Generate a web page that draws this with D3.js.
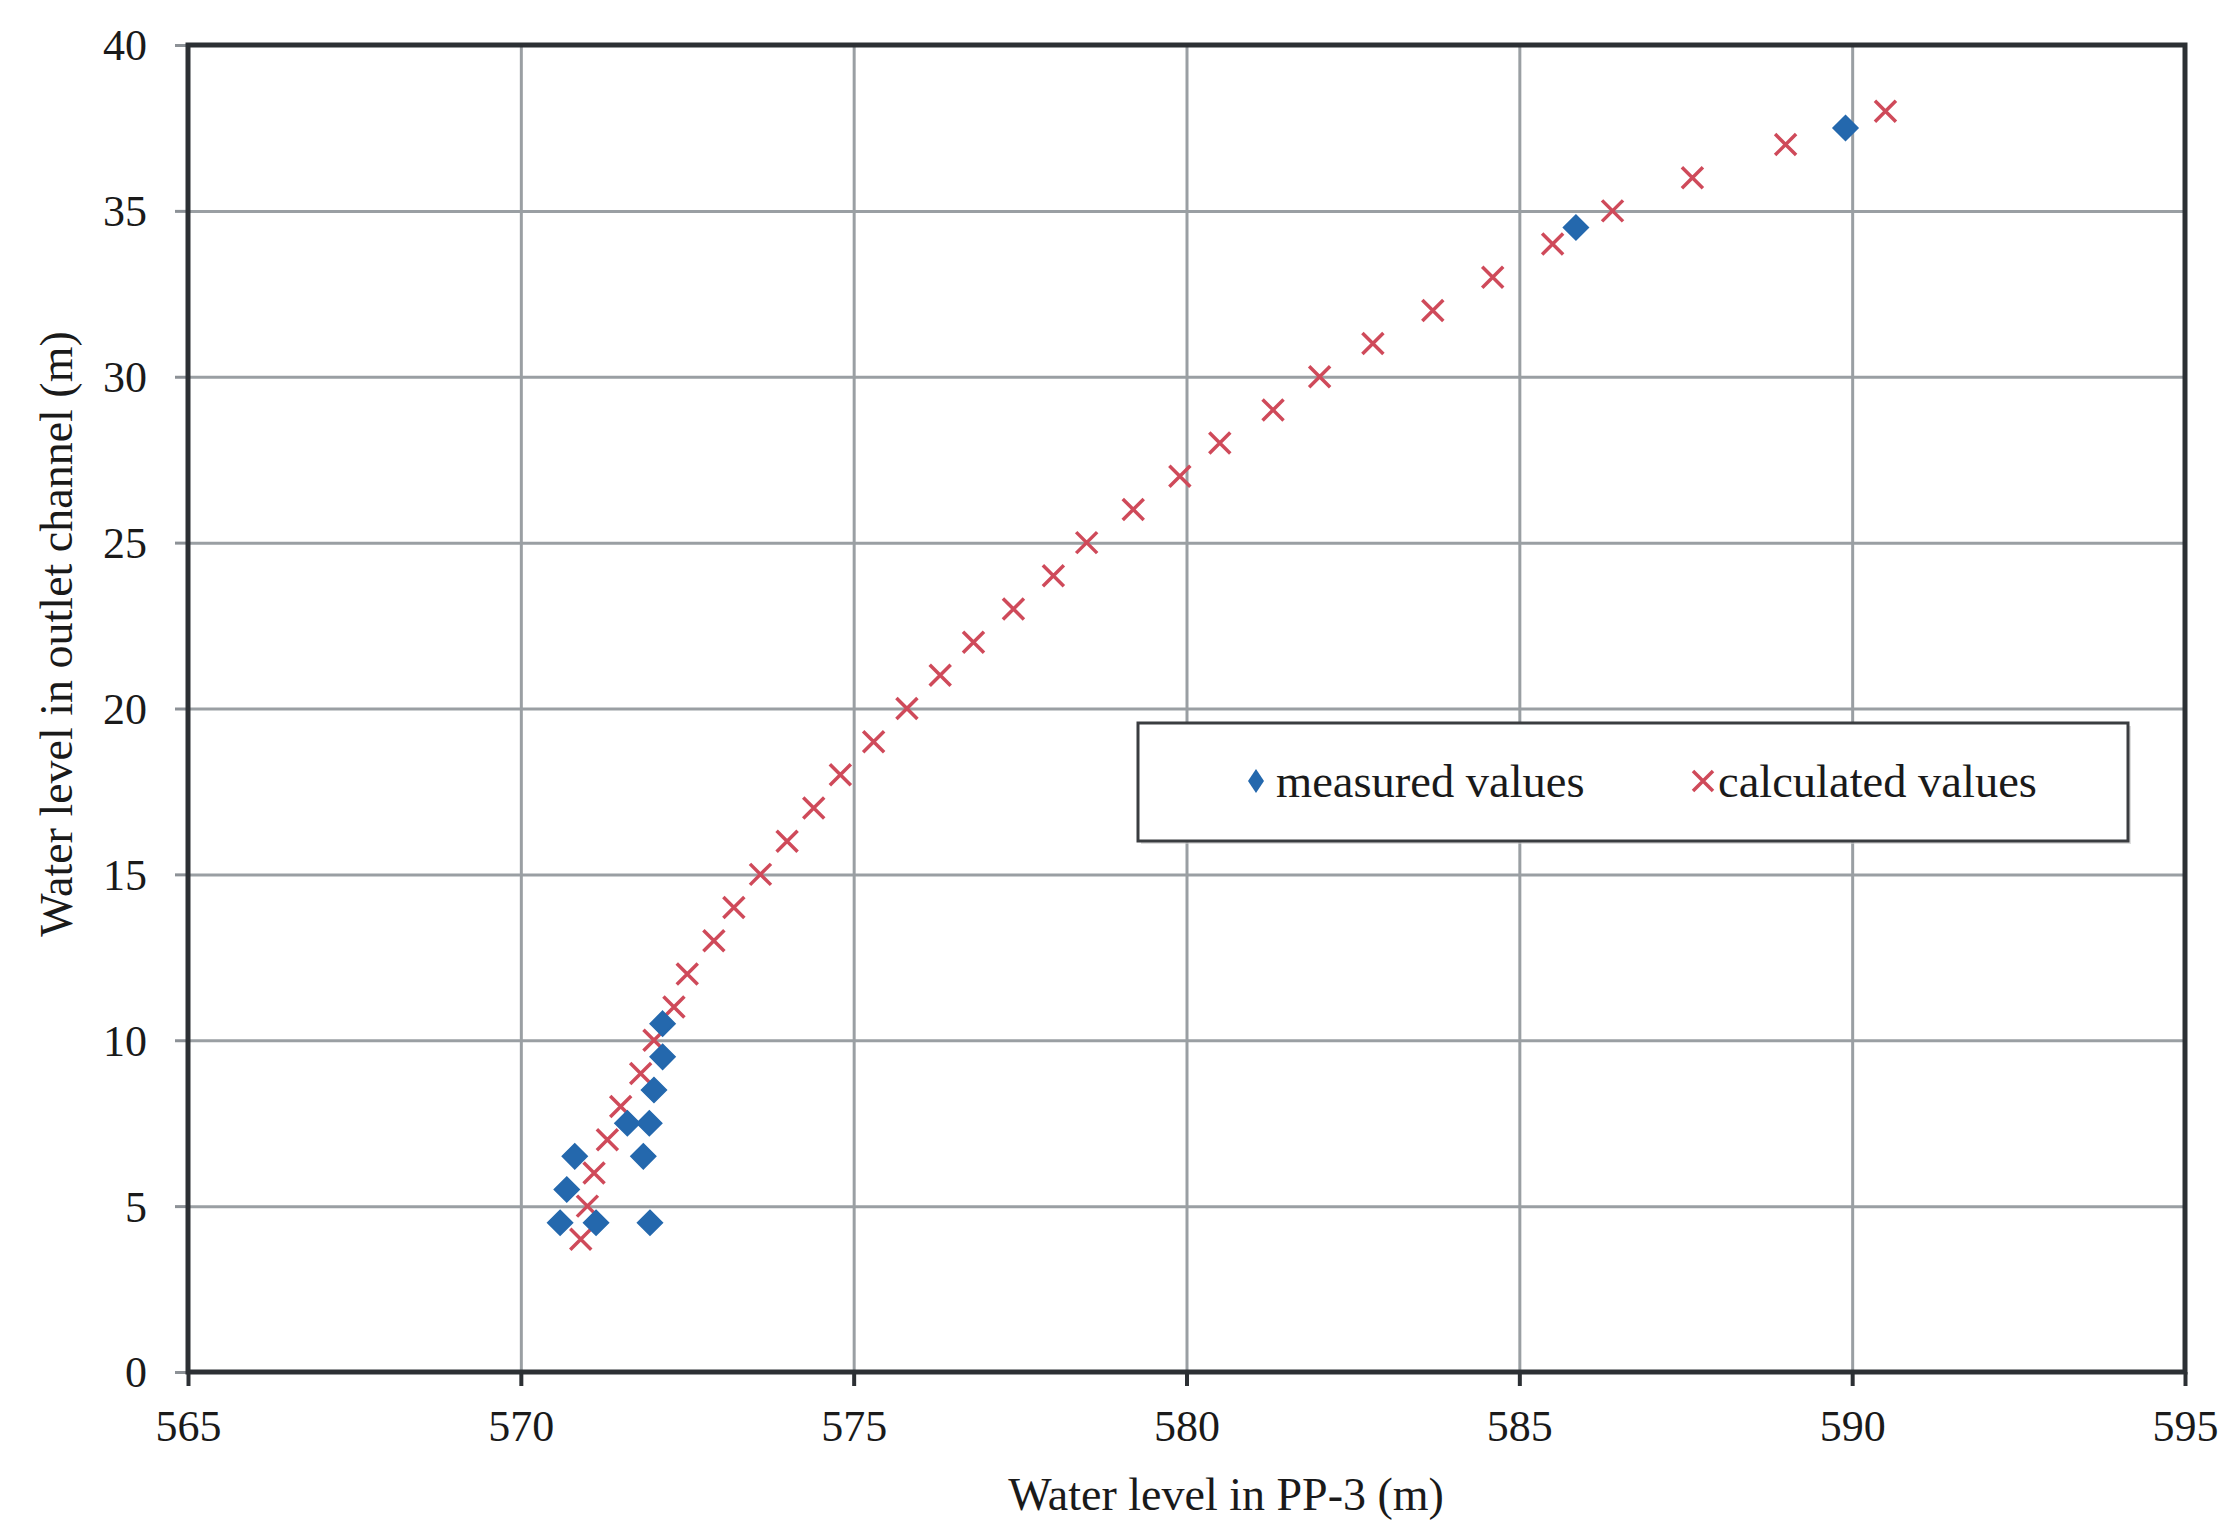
<!DOCTYPE html>
<html>
<head>
<meta charset="utf-8">
<script src="https://cdn.jsdelivr.net/npm/d3@7"></script>
<style>
  html, body { margin: 0; padding: 0; background: #ffffff; }
  svg { display: block; }
</style>
</head>
<body>
<svg id="chart" width="2220" height="1527"></svg>
<script>
// ---------- data ----------
const measuredX = [570.59, 570.69, 570.81, 571.13, 571.94, 571.84, 571.60, 571.93, 572.00, 572.13, 572.13, 585.85, 589.90];
const measuredY = [4.5, 5.5, 6.5, 4.5, 4.5, 6.5, 7.5, 7.5, 8.5, 9.5, 10.5, 34.5, 37.5];

const calculatedX = [570.9, 571.0, 571.1, 571.3, 571.5, 571.8, 572.0, 572.3, 572.5, 572.9,
                     573.2, 573.6, 574.0, 574.4, 574.8, 575.3, 575.8, 576.3, 576.8, 577.4,
                     578.0, 578.5, 579.2, 579.9, 580.5, 581.3, 582.0, 582.8, 583.7, 584.6,
                     585.5, 586.4, 587.6, 589.0, 590.5];
const calculatedY = [4, 5, 6, 7, 8, 9, 10, 11, 12, 13,
                     14, 15, 16, 17, 18, 19, 20, 21, 22, 23,
                     24, 25, 26, 27, 28, 29, 30, 31, 32, 33,
                     34, 35, 36, 37, 38];

const xTicks = [565, 570, 575, 580, 585, 590, 595];
const yTicks = [0, 5, 10, 15, 20, 25, 30, 35, 40];

const seriesNames = ["measured values", "calculated values"];
const xTitle = "Water level in PP-3 (m)";
const yTitle = "Water level in outlet channel (m)";

// ---------- layout ----------
const svg = d3.select("#chart");
const pLeft = 188, pRight = 2185, pTop = 45, pBottom = 1372;
const FONT = "'Liberation Serif', 'Times New Roman', serif";
const gridColor = "#9a9fa3";
const frameColor = "#2c3034";
const blue = "#2468ad";
const red = "#cf4a5a";
const textColor = "#1a1a1a";

const x = d3.scaleLinear().domain([565, 595]).range([pLeft, pRight]);
const y = d3.scaleLinear().domain([0, 40]).range([pBottom, pTop]);

// gridlines
svg.append("g")
  .attr("transform", `translate(0,${pBottom})`)
  .call(d3.axisBottom(x).tickValues(xTicks).tickSize(-(pBottom - pTop)).tickFormat(""))
  .call(g => g.select(".domain").remove())
  .call(g => g.selectAll("line").attr("stroke", gridColor).attr("stroke-width", 3));

svg.append("g")
  .attr("transform", `translate(${pLeft},0)`)
  .call(d3.axisLeft(y).tickValues(yTicks).tickSize(-(pRight - pLeft)).tickFormat(""))
  .call(g => g.select(".domain").remove())
  .call(g => g.selectAll("line").attr("stroke", gridColor).attr("stroke-width", 3));

// y axis ticks + labels
svg.append("g")
  .attr("transform", `translate(${pLeft},0)`)
  .call(d3.axisLeft(y).tickValues(yTicks).tickSize(13).tickPadding(28).tickFormat(d3.format("d")))
  .call(g => g.select(".domain").remove())
  .call(g => g.selectAll("line").attr("stroke", "#8c9196").attr("stroke-width", 3))
  .call(g => g.selectAll("text")
      .attr("font-family", FONT).attr("font-size", 44).attr("fill", textColor)
      .attr("dy", "0.34em"));

// x axis ticks + labels
svg.append("g")
  .attr("transform", `translate(0,${pBottom})`)
  .call(d3.axisBottom(x).tickValues(xTicks).tickSize(14).tickPadding(24).tickFormat(d3.format("d")))
  .call(g => g.select(".domain").remove())
  .call(g => g.selectAll("line").attr("stroke", frameColor).attr("stroke-width", 4))
  .call(g => g.selectAll("text")
      .attr("font-family", FONT).attr("font-size", 44).attr("fill", textColor));

// plot frame
svg.append("rect")
  .attr("x", pLeft).attr("y", pTop)
  .attr("width", pRight - pLeft).attr("height", pBottom - pTop)
  .attr("fill", "none").attr("stroke", frameColor).attr("stroke-width", 5);

// ---------- markers ----------
const measured = measuredX.map((v, i) => ({x: v, y: measuredY[i]}));
const calculated = calculatedX.map((v, i) => ({x: v, y: calculatedY[i]}));

function diamondPath(w, h) {
  return `M0,${-h/2} L${w/2},0 L0,${h/2} L${-w/2},0 Z`;
}
function crossPath(s) {
  const a = s / 2;
  return `M${-a},${-a} L${a},${a} M${-a},${a} L${a},${-a}`;
}

svg.append("g").selectAll("path")
  .data(calculated).join("path")
  .attr("transform", d => `translate(${x(d.x)},${y(d.y)})`)
  .attr("d", crossPath(21))
  .attr("fill", "none").attr("stroke", red).attr("stroke-width", 3.5);

svg.append("g").selectAll("path")
  .data(measured).join("path")
  .attr("transform", d => `translate(${x(d.x)},${y(d.y)})`)
  .attr("d", diamondPath(25, 25))
  .attr("fill", blue).attr("stroke", blue).attr("stroke-width", 1.5);

// ---------- legend ----------
const lg = svg.append("g");
lg.append("rect")
  .attr("x", 1141).attr("y", 726).attr("width", 990).attr("height", 118)
  .attr("fill", "#c8c8c8").attr("opacity", 0.6);
lg.append("rect")
  .attr("x", 1138).attr("y", 723).attr("width", 990).attr("height", 118)
  .attr("fill", "#ffffff").attr("stroke", "#3a3d40").attr("stroke-width", 3);

lg.append("path")
  .attr("transform", "translate(1256,781)")
  .attr("d", diamondPath(16, 24))
  .attr("fill", blue);
lg.append("text")
  .attr("x", 1276).attr("y", 781).attr("dy", "0.34em")
  .attr("font-family", FONT).attr("font-size", 46.5).attr("fill", textColor)
  .text(seriesNames[0]);

lg.append("path")
  .attr("transform", "translate(1703,781)")
  .attr("d", crossPath(20))
  .attr("fill", "none").attr("stroke", red).attr("stroke-width", 3.5);
lg.append("text")
  .attr("x", 1718).attr("y", 781).attr("dy", "0.34em")
  .attr("font-family", FONT).attr("font-size", 46.5).attr("fill", textColor)
  .text(seriesNames[1]);

// ---------- axis titles ----------
svg.append("text")
  .attr("x", 1226).attr("y", 1510)
  .attr("text-anchor", "middle")
  .attr("font-family", FONT).attr("font-size", 46).attr("fill", textColor)
  .text(xTitle);

svg.append("text")
  .attr("transform", "translate(56,634) rotate(-90)")
  .attr("text-anchor", "middle").attr("dy", "0.34em")
  .attr("font-family", FONT).attr("font-size", 46).attr("fill", textColor)
  .text(yTitle);
</script>
</body>
</html>
